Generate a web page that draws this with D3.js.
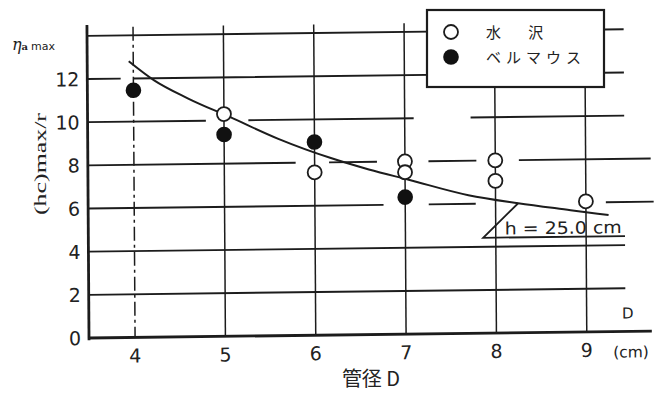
<!DOCTYPE html>
<html>
<head>
<meta charset="utf-8">
<script src="https://cdn.jsdelivr.net/npm/d3@7"></script>
<style>
  html, body { margin: 0; padding: 0; background: #fff; }
  svg { display: block; }
</style>
</head>
<body>
<svg id="chart" width="656" height="394"></svg>
<script>
// Pipe diameter D (cm) against (hc)max / r
const xTicks = [4, 5, 6, 7, 8, 9];
const yTicks = [0, 2, 4, 6, 8, 10, 12];
const yGrid = [2, 4, 6, 8, 10, 12, 14];

// series: open circles (水 沢)
const openD   = [5, 6, 7, 7, 8, 8, 9];
const openVal = [10.3, 7.55, 8.0, 7.5, 8.0, 7.05, 6.05];

// series: filled circles (ベルマウス)
const filledD   = [4, 5, 6, 7];
const filledVal = [11.45, 9.35, 8.95, 6.35];

// fitted curve, h = 25.0 cm
const curveD   = [3.95, 4.23, 4.6, 5.07, 5.6, 6.18, 6.6, 7.04, 7.7, 8.25, 8.83, 9.25];
const curveVal = [12.8, 11.9, 11.05, 10.15, 9.12, 8.2, 7.65, 7.15, 6.4, 6.0, 5.65, 5.4];

const legendLabels = ["水 沢", "ベルマウス"];

const ink = "#1c1c1c";
const svg = d3.select("#chart");

const x = d3.scaleLinear().domain([3.49, 9.7]).range([89, 650]);
const y = d3.scaleLinear().domain([0, 12]).range([338, 79]);

// the printed sheet is slightly skewed: right side rises, top leans left
const g = svg.append("g").attr("transform", "matrix(1,-0.0122,0.0066,1,-2.23,1.086)");

// horizontal grid; some printed rules are broken into segments
const gridRight = {2: 9.43, 4: 9.43, 6: 9.75, 8: 9.72, 10: 9.43, 12: 9.43, 14: 9.43};
const gridBreaks = {
  6: [[6.76, 7.26], [7.78, 9.22]],
  8: [[5.79, 6.16], [6.69, 7.26], [7.79, 8.26]],
  10: [[4.8, 5.27], [7.1, 7.73]],
  12: [[3.86, 4.0]]
};
function dashFor(v) {
  const br = gridBreaks[v];
  if (!br) return null;
  let pos = x(3.49), arr = [];
  br.forEach(([a, b]) => { arr.push(x(a) - pos, x(b) - x(a)); pos = x(b); });
  arr.push(1000, 0);
  return arr.map(n => n.toFixed(1)).join(",");
}
g.append("g").selectAll("line").data(yGrid).join("line")
  .attr("x1", x(3.49)).attr("x2", d => x(gridRight[d]))
  .attr("y1", d => y(d)).attr("y2", d => y(d))
  .attr("stroke", ink).attr("stroke-width", 1.9)
  .attr("stroke-dasharray", d => dashFor(d));

// vertical grid
g.append("g").selectAll("line").data(xTicks).join("line")
  .attr("x1", d => x(d)).attr("x2", d => x(d))
  .attr("y1", d => d >= 8 ? y(11.4) : y(14.4)).attr("y2", y(0))
  .attr("stroke", ink).attr("stroke-width", 1.5)
  .attr("stroke-dasharray", d => d === 4 ? "14,4,3,4" : null);

// axes frame
g.append("line").attr("x1", x(3.49)).attr("x2", x(3.49))
  .attr("y1", y(14.5)).attr("y2", y(-0.1))
  .attr("stroke", ink).attr("stroke-width", 2.8);
g.append("line").attr("x1", x(3.49)).attr("x2", x(9.72))
  .attr("y1", y(0)).attr("y2", y(0))
  .attr("stroke", ink).attr("stroke-width", 2.8);

// tick labels
g.append("g").selectAll("text").data(yTicks).join("text")
  .attr("x", 81).attr("y", d => y(d) + 7)
  .attr("text-anchor", "end")
  .attr("font-family", "DejaVu Sans").attr("font-size", 19).attr("fill", "#222")
  .text(d => d);
g.append("g").selectAll("text").data(xTicks).join("text")
  .attr("x", d => x(d)).attr("y", 363)
  .attr("text-anchor", "middle")
  .attr("font-family", "DejaVu Sans").attr("font-size", 19).attr("fill", "#222")
  .text(d => d);
g.append("text").attr("x", 613).attr("y", 364)
  .attr("font-family", "DejaVu Sans").attr("font-size", 15.5).attr("fill", "#222")
  .text("(cm)");
g.append("text").attr("x", 628).attr("y", 325).attr("text-anchor", "middle")
  .attr("font-family", "DejaVu Sans").attr("font-size", 15).attr("fill", "#222")
  .text("D");

// curve
const line = d3.line().x(d => x(d[0])).y(d => y(d[1])).curve(d3.curveMonotoneX);
g.append("path").datum(d3.zip(curveD, curveVal))
  .attr("d", line).attr("fill", "none")
  .attr("stroke", ink).attr("stroke-width", 2);

// h annotation with leader
const leadTop = [8.25, 6.0], leadBot = [7.86, 4.42], leadEnd = [9.43, 4.42];
g.append("path")
  .attr("d", d3.line()([[x(leadTop[0]), y(leadTop[1])], [x(leadBot[0]), y(leadBot[1])], [x(leadEnd[0]), y(leadEnd[1])]]))
  .attr("fill", "none").attr("stroke", ink).attr("stroke-width", 1.8);
g.append("text").attr("x", x(8.1)).attr("y", y(4.42) - 3)
  .attr("font-family", "DejaVu Sans").attr("font-size", 17).attr("fill", "#222")
  .attr("textLength", 117).attr("lengthAdjust", "spacingAndGlyphs")
  .text("h = 25.0 cm");

// points
g.append("g").selectAll("circle").data(d3.zip(openD, openVal)).join("circle")
  .attr("cx", d => x(d[0])).attr("cy", d => y(d[1])).attr("r", 7)
  .attr("fill", "#fff").attr("stroke", ink).attr("stroke-width", 1.8);
g.append("g").selectAll("circle").data(d3.zip(filledD, filledVal)).join("circle")
  .attr("cx", d => x(d[0])).attr("cy", d => y(d[1])).attr("r", 7.8)
  .attr("fill", "#111");

// legend
const lg = svg.append("g");
lg.append("rect").attr("x", 427).attr("y", 10).attr("width", 177).attr("height", 77)
  .attr("fill", "#fff").attr("stroke", ink).attr("stroke-width", 2.2);
lg.append("circle").attr("cx", 451).attr("cy", 32).attr("r", 7)
  .attr("fill", "#fff").attr("stroke", ink).attr("stroke-width", 1.8);
lg.append("circle").attr("cx", 451).attr("cy", 57).attr("r", 7.8).attr("fill", "#111");
lg.selectAll("text").data(legendLabels).join("text")
  .attr("x", 486).attr("y", (d, i) => 38 + i * 25)
  .attr("font-family", "Noto Sans CJK JP").attr("font-size", 15).attr("fill", "#222")
  .attr("letter-spacing", (d, i) => i === 0 ? 12 : 5)
  .text(d => d);

// axis titles
svg.append("text")
  .attr("transform", "translate(46,164) rotate(-90)")
  .attr("text-anchor", "middle")
  .attr("font-family", "Liberation Serif").attr("font-size", 17).attr("fill", "#222")
  .attr("textLength", 102).attr("lengthAdjust", "spacingAndGlyphs")
  .text("(hc)max/r");
svg.append("text").attr("x", 371).attr("y", 386).attr("text-anchor", "middle")
  .attr("font-family", "Noto Sans CJK JP").attr("font-size", 20).attr("fill", "#222")
  .text("管径 D");
const eta = svg.append("text").attr("x", 12).attr("y", 50)
  .attr("font-family", "DejaVu Serif").attr("fill", "#222");
eta.append("tspan").attr("font-size", 16).attr("font-style", "italic").text("η");
eta.append("tspan").attr("font-size", 10).attr("font-weight", "bold").text("a");
eta.append("tspan").attr("font-size", 11).attr("font-family", "DejaVu Sans").attr("dx", 3).text("max");
</script>
</body>
</html>
